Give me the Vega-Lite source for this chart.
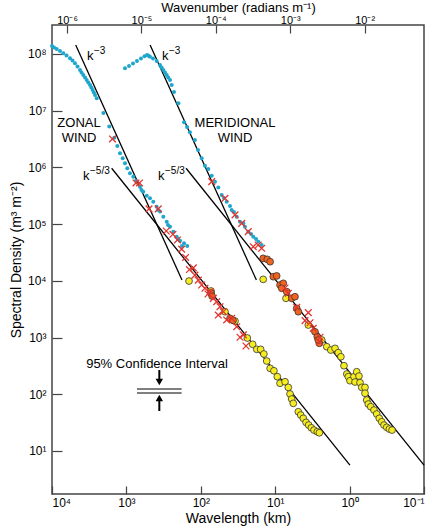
{
  "$schema": "https://vega.github.io/schema/vega-lite/v6.json",
  "width": 372,
  "height": 469,
  "autosize": {"type": "none"},
  "padding": {"left": 52, "top": 25, "right": 14, "bottom": 35},
  "background": "white",
  "config": {
    "font": "Liberation Sans",
    "view": {"stroke": "#444", "strokeWidth": 1.5},
    "axis": {"labelFont": "Liberation Sans", "titleFont": "Liberation Sans", "labelFontSize": 12, "titleFontSize": 14, "titleFontWeight": "normal", "labelColor": "#000", "titleColor": "#000", "tickColor": "#444", "tickWidth": 1.2, "domain": false, "grid": false}
  },
  "datasets": {
    "pts": [
      {"s":"zc","w":10000,"S":1.38e8},{"s":"zc","w":9400,"S":1.30e8},{"s":"zc","w":8650,"S":1.22e8},{"s":"zc","w":7800,"S":1.13e8},{"s":"zc","w":7050,"S":1.03e8},{"s":"zc","w":6380,"S":9.42e7},{"s":"zc","w":5730,"S":8.40e7},{"s":"zc","w":5300,"S":7.68e7},{"s":"zc","w":4910,"S":6.85e7},{"s":"zc","w":4540,"S":6.03e7},{"s":"zc","w":4200,"S":5.22e7},{"s":"zc","w":4010,"S":4.72e7},{"s":"zc","w":3800,"S":4.26e7},{"s":"zc","w":3600,"S":3.85e7},{"s":"zc","w":3420,"S":3.48e7},{"s":"zc","w":3250,"S":3.14e7},{"s":"zc","w":3080,"S":2.84e7},{"s":"zc","w":2960,"S":2.56e7},{"s":"zc","w":2840,"S":2.32e7},{"s":"zc","w":2740,"S":2.09e7},{"s":"zc","w":2640,"S":1.89e7},{"s":"zc","w":2510,"S":1.66e7},{"s":"zc","w":2040,"S":9.10e6},{"s":"zc","w":1700,"S":5.26e6},{"s":"zc","w":1455,"S":3.34e6},{"s":"zc","w":1325,"S":2.38e6},{"s":"zc","w":1219,"S":1.77e6},{"s":"zc","w":1122,"S":1.45e6},{"s":"zc","w":1045,"S":1.18e6},{"s":"zc","w":973,"S":9.64e5},{"s":"zc","w":895,"S":7.87e5},{"s":"zc","w":807,"S":6.85e5},{"s":"zc","w":743,"S":5.82e5},{"s":"zc","w":656,"S":4.57e5},{"s":"zc","w":627,"S":3.99e5},{"s":"zc","w":593,"S":3.72e5},{"s":"zc","w":533,"S":3.17e5},{"s":"zc","w":482,"S":2.85e5},{"s":"zc","w":435,"S":2.48e5},{"s":"zc","w":392,"S":2.03e5},{"s":"zc","w":376,"S":1.77e5},{"s":"zc","w":353,"S":1.66e5},{"s":"zc","w":319,"S":1.35e5},{"s":"zc","w":287,"S":1.10e5},{"s":"zc","w":276,"S":9.64e4},{"s":"zc","w":259,"S":9.00e4},{"s":"zc","w":234,"S":7.35e4},{"s":"zc","w":211,"S":6.00e4},{"s":"zc","w":202,"S":5.46e4},{"s":"zc","w":190,"S":5.09e4},{"s":"zc","w":179,"S":4.11e4},{"s":"zc","w":168,"S":4.58e4},{"s":"zc","w":152,"S":4.11e4},
      {"s":"mc","w":1045,"S":5.60e7},{"s":"mc","w":923,"S":6.14e7},{"s":"mc","w":815,"S":6.79e7},{"s":"mc","w":721,"S":7.53e7},{"s":"mc","w":637,"S":8.34e7},{"s":"mc","w":571,"S":9.10e7},{"s":"mc","w":528,"S":9.60e7},{"s":"mc","w":505,"S":9.30e7},{"s":"mc","w":482,"S":8.96e7},{"s":"mc","w":439,"S":8.34e7},{"s":"mc","w":392,"S":7.53e7},{"s":"mc","w":353,"S":6.40e7},{"s":"mc","w":336,"S":5.78e7},{"s":"mc","w":319,"S":5.22e7},{"s":"mc","w":303,"S":4.72e7},{"s":"mc","w":287,"S":4.26e7},{"s":"mc","w":274,"S":3.85e7},{"s":"mc","w":259,"S":3.48e7},{"s":"mc","w":246,"S":2.84e7},{"s":"mc","w":229,"S":2.14e7},{"s":"mc","w":200,"S":1.35e7},{"s":"mc","w":168,"S":6.24e6},{"s":"mc","w":153,"S":5.16e6},{"s":"mc","w":140,"S":4.16e6},{"s":"mc","w":120,"S":3.04e6},{"s":"mc","w":109,"S":2.03e6},{"s":"mc","w":97.3,"S":1.45e6},{"s":"mc","w":87.9,"S":1.07e6},{"s":"mc","w":79.3,"S":9.38e5},{"s":"mc","w":71.3,"S":7.14e5},{"s":"mc","w":64.4,"S":5.60e5},{"s":"mc","w":58.2,"S":4.42e5},{"s":"mc","w":52.4,"S":3.26e5},{"s":"mc","w":48.8,"S":2.88e5},{"s":"mc","w":44.9,"S":2.48e5},{"s":"mc","w":40.5,"S":2.08e5},{"s":"mc","w":38.5,"S":1.77e5},{"s":"mc","w":35.8,"S":1.63e5},{"s":"mc","w":32.9,"S":1.35e5},{"s":"mc","w":29.7,"S":1.10e5},{"s":"mc","w":26.8,"S":1.03e5},{"s":"mc","w":25.5,"S":9.00e4},{"s":"mc","w":23.0,"S":7.35e4},{"s":"mc","w":21.1,"S":6.68e4},{"s":"mc","w":19.7,"S":6.00e4},{"s":"mc","w":18.1,"S":5.46e4},{"s":"mc","w":16.9,"S":4.90e4},{"s":"mc","w":15.2,"S":4.28e4},
      {"s":"zy","w":144,"S":9.91e3},{"s":"zy","w":72.9,"S":6.61e3},{"s":"zy","w":47.3,"S":2.85e3},{"s":"zy","w":34.7,"S":1.95e3},{"s":"zy","w":23.7,"S":980},{"s":"zy","w":20.1,"S":759},{"s":"zy","w":17.7,"S":619},{"s":"zy","w":15.7,"S":619},{"s":"zy","w":14.2,"S":512},{"s":"zy","w":13.0,"S":385},{"s":"zy","w":11.7,"S":286},{"s":"zy","w":10.4,"S":259},{"s":"zy","w":9.37,"S":204},{"s":"zy","w":8.61,"S":156},{"s":"zy","w":7.38,"S":166},{"s":"zy","w":6.67,"S":132},{"s":"zy","w":6.32,"S":101},{"s":"zy","w":6.00,"S":82.2},{"s":"zy","w":5.71,"S":69.0},{"s":"zy","w":4.89,"S":49.1},{"s":"zy","w":4.54,"S":43.0},{"s":"zy","w":4.19,"S":37.6},{"s":"zy","w":3.85,"S":31.9},{"s":"zy","w":3.55,"S":28.6},{"s":"zy","w":3.27,"S":25.6},{"s":"zy","w":3.01,"S":23.3},{"s":"zy","w":2.72,"S":21.8},{"s":"zy","w":2.55,"S":20.9},
      {"s":"my","w":14.5,"S":1.06e4},{"s":"my","w":7.16,"S":4.91e3},{"s":"my","w":3.59,"S":1.66e3},{"s":"my","w":2.37,"S":904},{"s":"my","w":2.03,"S":689},{"s":"my","w":1.79,"S":601},{"s":"my","w":1.57,"S":644},{"s":"my","w":1.42,"S":540},{"s":"my","w":1.31,"S":458},{"s":"my","w":1.19,"S":318},{"s":"my","w":1.09,"S":227},{"s":"my","w":1.04,"S":204},{"s":"my","w":0.989,"S":173},{"s":"my","w":0.873,"S":204},{"s":"my","w":0.803,"S":249},{"s":"my","w":0.748,"S":209},{"s":"my","w":0.846,"S":164},{"s":"my","w":0.724,"S":160},{"s":"my","w":0.687,"S":132},{"s":"my","w":0.621,"S":132},{"s":"my","w":0.621,"S":104},{"s":"my","w":0.589,"S":79.0},{"s":"my","w":0.561,"S":67.1},{"s":"my","w":0.520,"S":60.1},{"s":"my","w":0.470,"S":52.6},{"s":"my","w":0.432,"S":44.8},{"s":"my","w":0.399,"S":37.6},{"s":"my","w":0.370,"S":32.7},{"s":"my","w":0.345,"S":28.6},{"s":"my","w":0.317,"S":26.1},{"s":"my","w":0.292,"S":24.3},{"s":"my","w":0.269,"S":23.3},
      {"s":"zo","w":72.9,"S":6.10e3},{"s":"zo","w":70.6,"S":5.39e3},{"s":"zo","w":40.5,"S":2.18e3},{"s":"zo","w":36.9,"S":2.00e3},
      {"s":"mo","w":14.5,"S":2.49e4},{"s":"mo","w":12.8,"S":2.39e4},{"s":"mo","w":11.7,"S":2.17e4},{"s":"mo","w":10.6,"S":1.18e4},{"s":"mo","w":9.55,"S":1.22e4},{"s":"mo","w":8.61,"S":8.43e3},{"s":"mo","w":7.78,"S":9.04e3},{"s":"mo","w":8.18,"S":7.38e3},{"s":"mo","w":7.00,"S":6.43e3},{"s":"mo","w":6.00,"S":4.91e3},{"s":"mo","w":5.42,"S":5.24e3},{"s":"mo","w":5.14,"S":3.27e3},{"s":"mo","w":4.89,"S":2.85e3},{"s":"mo","w":2.92,"S":1.26e3},{"s":"mo","w":2.72,"S":1.03e3},{"s":"mo","w":2.55,"S":791},{"s":"mo","w":2.64,"S":904},
      {"s":"zx","w":1540,"S":3.17e6},{"s":"zx","w":743,"S":5.31e5},{"s":"zx","w":667,"S":5.31e5},{"s":"zx","w":497,"S":1.85e5},{"s":"zx","w":373,"S":1.85e5},{"s":"zx","w":291,"S":7.55e4},{"s":"zx","w":237,"S":6.61e4},{"s":"zx","w":206,"S":5.25e4},{"s":"zx","w":181,"S":3.61e4},{"s":"zx","w":160,"S":2.58e4},{"s":"zx","w":142,"S":1.58e4},{"s":"zx","w":126,"S":1.69e4},{"s":"zx","w":120,"S":1.26e4},{"s":"zx","w":108,"S":1.03e4},{"s":"zx","w":97.3,"S":8.43e3},{"s":"zx","w":87.9,"S":7.38e3},{"s":"zx","w":80.0,"S":5.85e3},{"s":"zx","w":75.2,"S":6.43e3},{"s":"zx","w":67.9,"S":4.91e3},{"s":"zx","w":61.1,"S":4.28e3},{"s":"zx","w":55.2,"S":3.49e3},{"s":"zx","w":58.2,"S":2.49e3},{"s":"zx","w":49.9,"S":2.85e3},{"s":"zx","w":44.9,"S":2.04e3},{"s":"zx","w":38.5,"S":2.18e3},{"s":"zx","w":32.9,"S":1.55e3},{"s":"zx","w":29.7,"S":1.01e3},{"s":"zx","w":26.8,"S":1.11e3},{"s":"zx","w":24.7,"S":708},
      {"s":"mx","w":71.3,"S":5.60e5},{"s":"mx","w":47.3,"S":2.85e5},{"s":"mx","w":34.7,"S":1.45e5},{"s":"mx","w":28.2,"S":1.03e5},{"s":"mx","w":23.0,"S":7.35e4},{"s":"mx","w":19.7,"S":3.99e4},{"s":"mx","w":16.9,"S":4.28e4},{"s":"mx","w":15.2,"S":3.74e4},{"s":"mx","w":7.38,"S":7.46e3},{"s":"mx","w":6.67,"S":6.02e3},{"s":"mx","w":5.14,"S":3.41e3},{"s":"mx","w":3.59,"S":2.74e3},{"s":"mx","w":3.97,"S":1.98e3},{"s":"mx","w":3.40,"S":1.82e3},{"s":"mx","w":3.08,"S":1.45e3},{"s":"mx","w":2.50,"S":1.01e3},{"s":"mx","w":2.55,"S":843}
    ],
    "lines": [
      {"id":"z3","w":4800,"S":1.44e8},{"id":"z3","w":179,"S":1.03e4},
      {"id":"z53","w":1578,"S":9.64e5},{"id":"z53","w":0.99,"S":5.64},
      {"id":"m3","w":480,"S":1.44e8},{"id":"m3","w":17.9,"S":1.03e4},
      {"id":"m53","w":157.8,"S":9.64e5},{"id":"m53","w":0.1,"S":5.64}
    ],
    "klabels": [
      {"t":"k","e":"−3","w":3390,"S":7.83e7},{"t":"k","e":"−3","w":332,"S":7.83e7},
      {"t":"k","e":"−5/3","w":3830,"S":6.0e5},{"t":"k","e":"−5/3","w":376,"S":6.0e5}
    ],
    "words": [
      {"t":"ZONAL","w":4335,"S":6.07e6},{"t":"WIND","w":4335,"S":3.30e6},
      {"t":"MERIDIONAL","w":34.7,"S":6.07e6},{"t":"WIND","w":34.7,"S":3.30e6},
      {"t":"95% Confidence Interval","w":388,"S":341}
    ],
    "ci": [
      {"kind":"bar","w":721,"w2":181,"S":124},{"kind":"bar","w":721,"w2":181,"S":105},
      {"kind":"shaft","w":361,"S":267,"S2":164},{"kind":"shaft","w":361,"S":50.6,"S2":85.7},
      {"kind":"down","w":361,"S":164},{"kind":"up","w":361,"S":85.7}
    ]
  },
  "layer": [
    {
      "encoding": {
        "x": {"field": "w", "type": "quantitative", "scale": {"type": "log", "domain": [0.1, 10000], "reverse": true, "nice": false},
          "axis": {"orient": "bottom", "title": "Wavelength (km)", "values": [10000, 1000, 100, 10, 1, 0.1], "tickSize": -8, "labelPadding": 11, "titlePadding": 3,
            "labelExpr": "'10' + (datum.value < 1 ? '⁻' : '') + ['⁰','¹','²','³','⁴','⁵','⁶','⁷','⁸','⁹'][abs(round(log(datum.value)/LN10))]"}},
        "y": {"field": "S", "type": "quantitative", "scale": {"type": "log", "domain": [1.74, 3.24e8], "nice": false},
          "axis": {"title": "Spectral Density (m³ m⁻²)", "values": [10, 100, 1000, 10000, 100000, 1000000, 10000000, 100000000], "tickSize": -10, "labelPadding": 16, "titlePadding": 4,
            "labelExpr": "'10' + (datum.value < 1 ? '⁻' : '') + ['⁰','¹','²','³','⁴','⁵','⁶','⁷','⁸','⁹'][abs(round(log(datum.value)/LN10))]"}}
      },
      "layer": [
        {"data": {"name": "lines"}, "mark": {"type": "line", "color": "#000", "strokeWidth": 1.3}, "encoding": {"detail": {"field": "id"}}},
        {"data": {"name": "pts"}, "transform": [{"filter": "datum.s == 'zc' || datum.s == 'mc'"}], "mark": {"type": "circle", "fill": "#1fa6cc", "opacity": 1, "size": 16}},
        {"data": {"name": "pts"}, "transform": [{"filter": "datum.s == 'zy' || datum.s == 'my'"}], "mark": {"type": "circle", "fill": "#f6ec22", "stroke": "#333", "strokeWidth": 0.8, "opacity": 1, "size": 46}},
        {"data": {"name": "pts"}, "transform": [{"filter": "datum.s == 'zo' || datum.s == 'mo'"}], "mark": {"type": "circle", "fill": "#f06420", "stroke": "#333", "strokeWidth": 0.8, "opacity": 1, "size": 46}},
        {"data": {"name": "pts"}, "transform": [{"filter": "datum.s == 'zx' || datum.s == 'mx'"}], "mark": {"type": "point", "shape": "M-1,-1L1,1M-1,1L1,-1", "filled": false, "color": "#e3342f", "strokeWidth": 1.3, "opacity": 1, "size": 45}},
        {"data": {"name": "klabels"}, "mark": {"type": "text", "align": "left", "baseline": "alphabetic", "fontSize": 13, "color": "#000"}, "encoding": {"text": {"field": "t"}}},
        {"data": {"name": "klabels"}, "mark": {"type": "text", "align": "left", "baseline": "alphabetic", "fontSize": 10, "dx": 7, "dy": -6, "color": "#000"}, "encoding": {"text": {"field": "e"}}},
        {"data": {"name": "words"}, "mark": {"type": "text", "align": "center", "baseline": "middle", "fontSize": 13, "color": "#000"}, "encoding": {"text": {"field": "t"}}},
        {"data": {"name": "ci"}, "transform": [{"filter": "datum.kind == 'bar'"}], "mark": {"type": "rule", "color": "#555", "strokeWidth": 1.5}, "encoding": {"x2": {"field": "w2"}}},
        {"data": {"name": "ci"}, "transform": [{"filter": "datum.kind == 'shaft'"}], "mark": {"type": "rule", "color": "#000", "strokeWidth": 2}, "encoding": {"y2": {"field": "S2"}}},
        {"data": {"name": "ci"}, "transform": [{"filter": "datum.kind == 'down'"}], "mark": {"type": "point", "shape": "triangle-down", "filled": true, "color": "#000", "opacity": 1, "size": 55}},
        {"data": {"name": "ci"}, "transform": [{"filter": "datum.kind == 'up'"}], "mark": {"type": "point", "shape": "triangle-up", "filled": true, "color": "#000", "opacity": 1, "size": 55}}
      ]
    },
    {
      "data": {"values": [{"k": 6.2832e-7}, {"k": 0.062832}]},
      "mark": {"type": "rule", "opacity": 0},
      "encoding": {
        "x": {"field": "k", "type": "quantitative", "scale": {"type": "log", "domain": [6.2832e-7, 0.062832], "nice": false},
          "axis": {"orient": "top", "title": "Wavenumber (radians m⁻¹)", "titleFontSize": 13, "labelFontSize": 11, "values": [0.000001, 0.00001, 0.0001, 0.001, 0.01], "tickSize": -8, "labelPadding": 8, "titlePadding": 0,
            "labelExpr": "'10' + (datum.value < 1 ? '⁻' : '') + ['⁰','¹','²','³','⁴','⁵','⁶','⁷','⁸','⁹'][abs(round(log(datum.value)/LN10))]"}}
      }
    }
  ],
  "resolve": {"scale": {"x": "independent"}, "axis": {"x": "independent"}}
}
